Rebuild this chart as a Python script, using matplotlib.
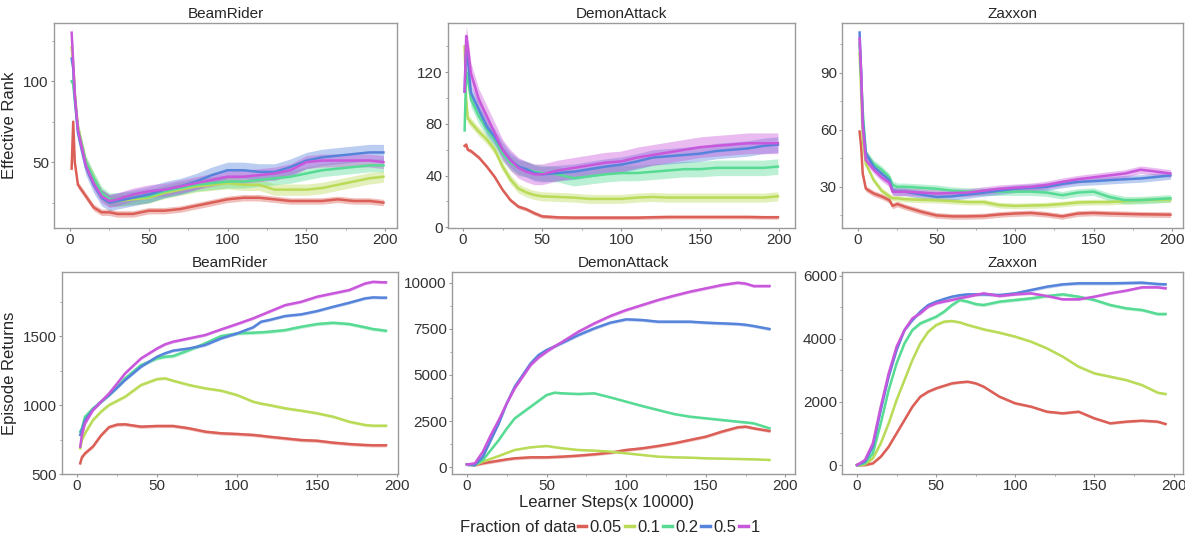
import matplotlib
matplotlib.use("Agg")
import numpy as np
import matplotlib.pyplot as plt
from matplotlib.lines import Line2D
from matplotlib.ticker import MultipleLocator, AutoMinorLocator

plt.rcParams['font.family'] = ['Liberation Sans', 'DejaVu Sans']

fractions = ["0.05", "0.1", "0.2", "0.5", "1"]
colors = ["#db5f57", "#b9db57", "#57db94", "#5784db", "#c957db"]

# effective rank, BeamRider
br_rank_x = [1, 2, 3, 5, 10, 15, 20, 25, 30, 40, 50, 60, 70, 80, 90, 100,
             110, 120, 130, 140, 150, 160, 170, 180, 190, 199]
br_rank = [
    [46, 75, 50, 36, 29, 22, 19, 19, 18, 18, 20, 20, 21, 23, 25, 27,
     28, 28, 27, 26, 26, 26, 27, 26, 26, 25],
    [121, 110, 93, 72, 50, 40, 30, 26, 26, 27, 28, 31, 33, 35, 36, 37,
     36, 36, 33, 33, 33, 34, 36, 38, 40, 41],
    [100, 98, 88, 70, 50, 40, 31, 27, 27, 28, 29, 32, 34, 36, 37, 38,
     38, 39, 40, 41, 43, 45, 46, 47, 48, 48],
    [114, 108, 90, 68, 47, 36, 28, 25, 26, 28, 30, 33, 35, 38, 42, 45,
     45, 44, 44, 47, 51, 53, 54, 55, 56, 56],
    [130, 112, 92, 70, 48, 37, 29, 26, 27, 30, 32, 33, 35, 37, 39, 41,
     41, 42, 43, 45, 50, 51, 51, 51, 51, 50],
]
br_rank_band = [2, 3.5, 4, 5, 4]

# effective rank, DemonAttack
da_rank_x = [1, 2, 3, 5, 10, 15, 20, 25, 30, 35, 40, 45, 50, 60, 70, 80,
             90, 100, 110, 120, 130, 140, 150, 160, 170, 180, 190, 199]
da_rank = [
    [63, 64, 60, 59, 54, 47, 39, 29, 21, 16, 14, 11, 8.5, 7.7, 7.5, 7.5,
     7.5, 7.5, 7.5, 7.8, 8, 8, 8, 8, 8, 8, 7.8, 7.8],
    [140, 99, 84, 81, 74, 68, 60, 47, 37, 30, 27, 25, 24, 23.5, 23, 22,
     22, 22, 23, 23.5, 23, 23, 23, 23, 23, 23, 23, 24],
    [75, 120, 115, 99, 86, 76, 68, 57, 50, 46, 45, 43, 42, 41, 38, 39.5,
     41, 42, 42, 43, 44, 45, 45, 46, 46, 46, 46, 47],
    [105, 140, 130, 104, 91, 78, 70, 60, 52, 47, 45, 42, 41, 42, 43, 45,
     47, 48.5, 51, 54, 55, 56, 57, 59, 60, 61, 63, 64],
    [105, 148, 140, 119, 99, 86, 73, 60, 52, 46, 43, 41, 41, 44, 46, 48,
     50, 51, 54, 56, 58, 60, 62, 63, 64, 65, 65, 65],
]
da_rank_band = [1.5, 3.5, 6, 6, 8]

# effective rank, Zaxxon
zx_rank_x = [1, 2, 3, 5, 10, 15, 20, 22, 25, 30, 40, 50, 60, 70, 80, 90,
             100, 110, 120, 130, 140, 150, 160, 170, 180, 190, 199]
zx_rank = [
    [59, 51, 37, 29, 26.5, 25, 23, 20, 21, 19.5, 17, 15, 14.5, 14.5, 14.7,
     15.5, 16, 16.3, 15.6, 14.5, 16, 16.3, 16, 15.8, 15.6, 15.5, 15.4],
    [100, 80, 55, 42, 33.5, 28, 25, 24, 24, 23.5, 23.2, 23, 22.5, 22, 22,
     20.4, 20, 20.2, 20.4, 21, 21.8, 22, 22, 22.5, 23, 23.2, 23.3],
    [105, 88, 70, 47.5, 42, 39, 35, 31, 30, 30, 29.5, 29, 28, 27.5, 27.5,
     27.5, 27.5, 27.5, 27, 25.6, 27, 27.5, 24.7, 23, 23, 23.5, 24],
    [111, 90, 65, 47.5, 40.5, 37, 33.5, 28, 27.5, 27.4, 26, 24.7, 25, 26,
     27, 28, 29, 29.5, 30, 31.5, 32.6, 33, 33.5, 34, 34.4, 35.2, 36],
    [108, 90, 62, 44, 39, 35, 32, 27.4, 27.4, 27.4, 27, 26.5, 26.8, 27, 28,
     29, 29.5, 30, 31, 32.6, 34, 35, 36, 37, 39, 38, 37],
]
zx_rank_band = [1.5, 1.5, 2, 2, 2]

# episode returns, BeamRider
br_ret_x = [2, 3, 5, 10, 15, 20, 25, 30, 40, 50, 55, 60, 70, 80, 90, 100,
            110, 115, 120, 130, 140, 150, 160, 170, 180, 185, 190, 193]
br_ret = [
    [577, 620, 650, 700, 780, 840, 858, 860, 843, 848, 848, 848, 831, 807,
     795, 790, 783, 777, 770, 758, 746, 741, 727, 717, 710, 708, 708, 708],
    [686, 746, 795, 891, 952, 1000, 1030, 1060, 1145, 1188, 1193, 1176,
     1145, 1121, 1104, 1072, 1024, 1010, 1000, 976, 959, 940, 915, 879,
     855, 850, 850, 850],
    [807, 830, 915, 976, 1024, 1072, 1130, 1193, 1290, 1338, 1350, 1355,
     1398, 1447, 1500, 1519, 1524, 1527, 1531, 1543, 1567, 1587, 1596,
     1587, 1563, 1550, 1543, 1538],
    [783, 820, 891, 968, 1024, 1072, 1125, 1181, 1278, 1350, 1375, 1394,
     1410, 1435, 1483, 1519, 1563, 1604, 1616, 1645, 1657, 1681, 1712,
     1741, 1773, 1780, 1778, 1778],
    [698, 780, 867, 964, 1024, 1084, 1155, 1229, 1338, 1410, 1440, 1459,
     1483, 1507, 1548, 1587, 1628, 1652, 1676, 1724, 1748, 1785, 1809,
     1833, 1881, 1893, 1890, 1889],
]
br_ret_band = [12, 10, 12, 10, 10]

# episode returns, DemonAttack
da_ret_x = [0, 5, 10, 15, 20, 25, 30, 40, 45, 50, 55, 60, 70, 80, 90, 100,
            110, 120, 130, 140, 150, 160, 170, 175, 180, 190]
da_ret = [
    [162, 126, 217, 290, 361, 430, 487, 541, 541, 541, 560, 578, 632, 704,
     794, 938, 1029, 1155, 1300, 1480, 1660, 1931, 2166, 2202, 2112, 1967],
    [162, 126, 307, 460, 614, 780, 938, 1083, 1120, 1155, 1090, 1029, 938,
     902, 848, 758, 668, 578, 541, 523, 487, 469, 451, 440, 433, 397],
    [162, 126, 397, 938, 1480, 2100, 2653, 3285, 3600, 3917, 4043, 4007,
     3971, 4007, 3790, 3556, 3321, 3105, 2888, 2744, 2653, 2563, 2473,
     2430, 2383, 2112],
    [162, 126, 578, 1480, 2383, 3466, 4368, 5632, 6083, 6354, 6550, 6751,
     7166, 7527, 7834, 8014, 7978, 7888, 7888, 7888, 7834, 7798, 7762,
     7720, 7653, 7490],
    [150, 217, 848, 1751, 2563, 3466, 4278, 5541, 5950, 6263, 6550, 6805,
     7346, 7798, 8195, 8520, 8790, 9061, 9296, 9512, 9693, 9873, 10000,
     9950, 9819, 9819],
]
da_ret_band = [80, 40, 60, 80, 80]

# episode returns, Zaxxon
zx_ret_x = [0, 5, 10, 15, 20, 25, 30, 35, 40, 45, 50, 55, 60, 65, 70, 75,
            80, 90, 100, 110, 120, 130, 140, 150, 160, 170, 180, 190, 195]
zx_ret = [
    [0, 0, 53, 264, 581, 1004, 1426, 1849, 2166, 2324, 2430, 2510, 2588,
     2620, 2641, 2588, 2483, 2166, 1955, 1849, 1690, 1638, 1690, 1479,
     1321, 1373, 1405, 1373, 1300],
    [0, 21, 211, 687, 1321, 2060, 2694, 3328, 3856, 4226, 4437, 4543, 4564,
     4520, 4437, 4370, 4300, 4194, 4068, 3909, 3698, 3434, 3117, 2905,
     2800, 2694, 2536, 2293, 2250],
    [0, 53, 370, 1321, 2377, 3222, 3856, 4279, 4490, 4596, 4701, 4860, 5071,
     5230, 5177, 5100, 5071, 5177, 5230, 5282, 5356, 5409, 5335, 5230,
     5071, 4966, 4913, 4786, 4786],
    [0, 106, 581, 1743, 2800, 3645, 4279, 4596, 4860, 5071, 5177, 5260,
     5335, 5380, 5409, 5409, 5409, 5388, 5441, 5547, 5652, 5726, 5758,
     5758, 5758, 5768, 5779, 5737, 5726],
    [0, 158, 687, 1849, 2905, 3751, 4279, 4649, 4807, 5018, 5124, 5180,
     5230, 5290, 5335, 5390, 5441, 5356, 5409, 5441, 5356, 5251, 5251,
     5335, 5441, 5526, 5631, 5631, 5600],
]
zx_ret_band = [40, 40, 50, 50, 40]


def _style_axis(ax, ystep, xlim, ylim):
    for spine in ax.spines.values():
        spine.set_color('#9a9a9a')
        spine.set_linewidth(1.0)
    ax.xaxis.set_major_locator(MultipleLocator(50))
    ax.yaxis.set_major_locator(MultipleLocator(ystep))
    ax.xaxis.set_minor_locator(AutoMinorLocator(2))
    ax.yaxis.set_minor_locator(AutoMinorLocator(2))
    ax.tick_params(which='both', direction='out', color='#9a9a9a',
                   labelcolor='#333333', labelsize=11, pad=1.5)
    ax.tick_params(which='major', length=2.2)
    ax.tick_params(which='minor', length=1.6)
    ax.set_xlim(*xlim)
    ax.set_ylim(*ylim)


def plot_panel(ax, title, x, series, bands, ystep, xlim, ylim):
    x = np.asarray(x, dtype=float)
    for vals, band, color in zip(series, bands, colors):
        vals = np.asarray(vals, dtype=float)
        ax.fill_between(x, vals - band, vals + band, color=color,
                        alpha=0.4, linewidth=0)
        ax.plot(x, vals, color=color, linewidth=1.8)
    ax.set_title(title, fontsize=11, color='#262626', pad=3.5)
    _style_axis(ax, ystep, xlim, ylim)


W, H = 1185, 536
fig = plt.figure(figsize=(W / 100, H / 100), dpi=100)


def _add_axes(left, top, right, bottom):
    return fig.add_axes([left / W, 1 - bottom / H,
                         (right - left) / W, (bottom - top) / H])


ax_tl = _add_axes(54, 23, 397, 228)
ax_tm = _add_axes(448, 23, 795, 228)
ax_tr = _add_axes(842, 23, 1183, 228)
ax_bl = _add_axes(62, 272, 398, 474)
ax_bm = _add_axes(452, 272, 795, 474)
ax_br = _add_axes(842, 272, 1183, 474)

plot_panel(ax_tl, "BeamRider", br_rank_x, br_rank, br_rank_band, 50,
           (-10.2, 207.6), (9.3, 136))
plot_panel(ax_tm, "DemonAttack", da_rank_x, da_rank, da_rank_band, 40,
           (-9.5, 209.8), (-0.5, 158))
plot_panel(ax_tr, "Zaxxon", zx_rank_x, zx_rank, zx_rank_band, 30,
           (-10.2, 207), (8.4, 116))
plot_panel(ax_bl, "BeamRider", br_ret_x, br_ret, br_ret_band, 500,
           (-9.4, 200.5), (500, 1964))
plot_panel(ax_bm, "DemonAttack", da_ret_x, da_ret, da_ret_band, 2500,
           (-9.4, 206), (-363, 10579))
plot_panel(ax_br, "Zaxxon", zx_ret_x, zx_ret, zx_ret_band, 2000,
           (-9.5, 206), (-285, 6117))

ax_tl.set_ylabel("Effective Rank", fontsize=12, color='#262626')
ax_tl.yaxis.set_label_coords(-0.108, 0.5)
ax_bl.set_ylabel("Episode Returns", fontsize=12, color='#262626')
ax_bl.yaxis.set_label_coords(-0.134, 0.5)

fig.text(607 / W, 1 - 502 / H, "Learner Steps(x 10000)", fontsize=12,
         color='#262626', ha='center', va='center')

# legend: title text on the left, then the five fractions in one row
fig.text(577 / W, 1 - 527 / H, "Fraction of data", fontsize=12,
         color='#262626', ha='right', va='center')
handles = [Line2D([], [], color=c, linewidth=2.5) for c in colors]
fig.legend(handles, fractions, loc='center left',
           bbox_to_anchor=(578 / W, 1 - 527 / H), ncol=5, frameon=False,
           fontsize=12, handlelength=0.5, handletextpad=0.2,
           columnspacing=0.2, borderpad=0, borderaxespad=0,
           labelcolor='#262626')

fig.savefig("out.png", dpi=100)
